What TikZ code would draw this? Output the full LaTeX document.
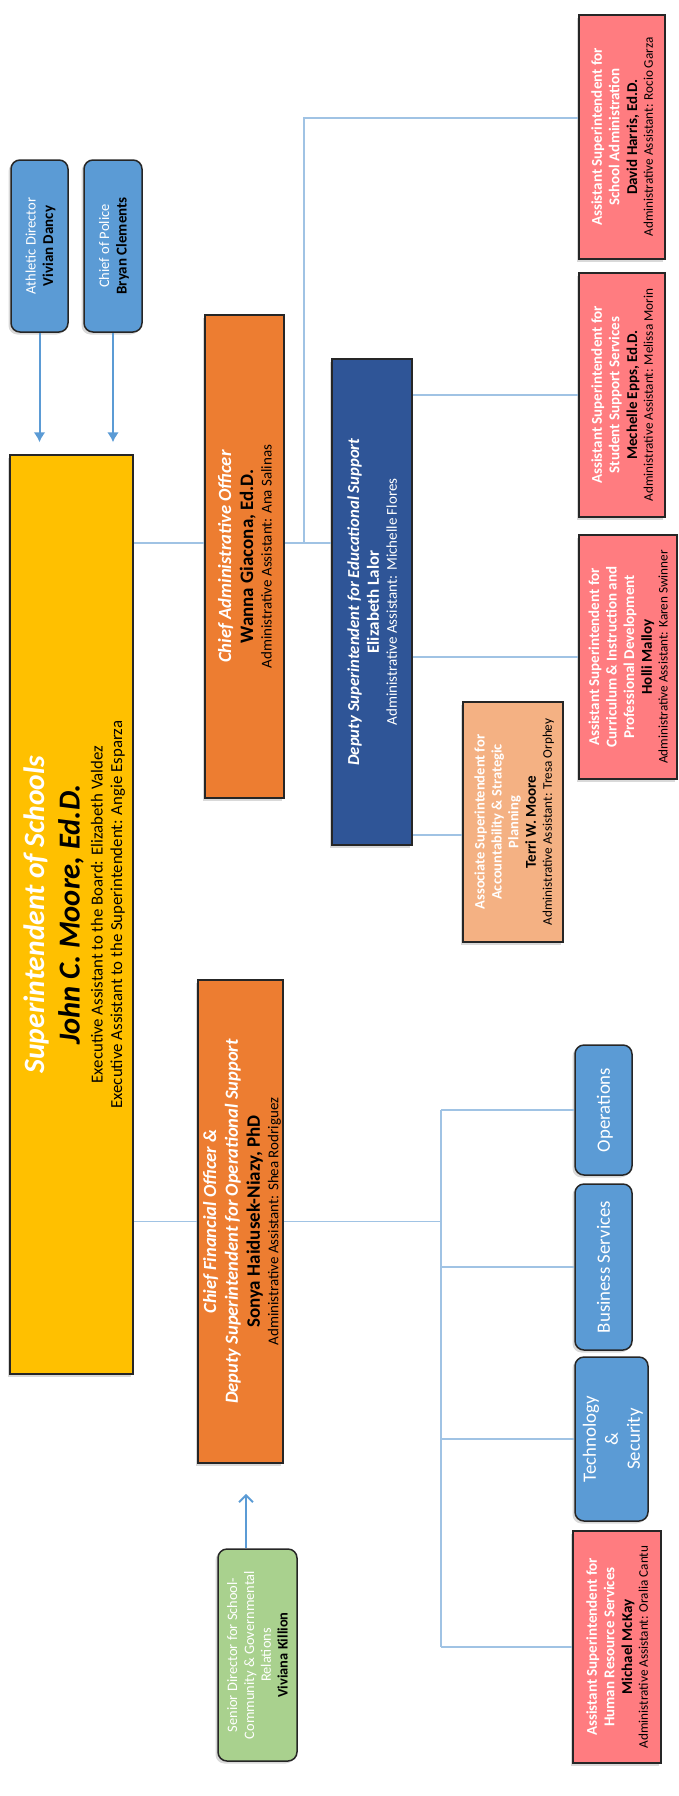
\documentclass[tikz,border=0pt]{standalone}
\usepackage{fontspec}
\setmainfont{Carlito}
\usetikzlibrary{arrows.meta,shadows}

\definecolor{supyellow}{RGB}{255,192,0}
\definecolor{offorange}{RGB}{237,125,49}
\definecolor{deepblue}{RGB}{47,85,151}
\definecolor{peach}{RGB}{244,177,131}
\definecolor{rose}{RGB}{255,124,128}
\definecolor{skyblue}{RGB}{91,155,213}
\definecolor{leaf}{RGB}{169,209,142}
\definecolor{linkblue}{RGB}{160,195,228}
\definecolor{edge}{RGB}{38,38,38}

\tikzset{
  card/.style={rotate=90, draw=edge, line width=1.5pt, inner sep=0pt, align=center, text=white,
    font={\fontsize{14.5}{0}\selectfont\lineskip=0pt},
    drop shadow={shadow xshift=-2.5pt, shadow yshift=-2.5pt, opacity=0.3}},
  sharp/.style={card},
  soft/.style={card, rounded corners=9pt},
  link/.style={draw=linkblue, line width=1.1pt},
  feed/.style={draw=skyblue, line width=2pt, -{Latex[length=10pt,width=12pt]}},
  lift/.style={draw=skyblue, line width=2pt, -{Straight Barb[length=7pt,width=14pt]}},
}

% eine Zeile mit Word-artigem Zeilenabstand
\newcommand{\tline}[2]{{\fontsize{#1}{#1}\selectfont
  \vrule width 0pt height 0.93\dimexpr#1pt\relax depth 0.24\dimexpr#1pt\relax #2}}
\newcommand{\who}[2][15]{\tline{#1}{\color{black}\bfseries #2}}
\newcommand{\aide}[2][13.2]{\tline{#1}{\color{black}#2}}
\newcommand{\role}[2][15]{\tline{#1}{\bfseries #2}}

\begin{document}
\begin{tikzpicture}[x=1pt,y=-1pt]
\useasboundingbox (0,0) rectangle (679,1796);

% Stabsstellen oben
\node[soft, fill=skyblue, minimum width=172pt, minimum height=57pt] (ath) at (39.5,246)
  {\tline{14.5}{Athletic Director}\\\who{Vivian Dancy}};
\node[soft, fill=skyblue, minimum width=172pt, minimum height=58pt] (police) at (113,246)
  {\tline{14.5}{Chief of Police}\\\who{Bryan Clements}};

% Superintendent
\node[sharp, fill=supyellow, minimum width=919pt, minimum height=123pt] (sup) at (71.5,914.5)
  {\tline{29.5}{\bfseries\itshape Superintendent of Schools}\\
   \tline{30.5}{\bfseries\itshape\color{black}John C. Moore, Ed.D.}\\
   \aide[16.8]{Executive Assistant to the Board: Elizabeth Valdez}\\
   \aide[16.8]{Executive Assistant to the Superintendent: Angie Esparza}};

% zweite Ebene
\node[sharp, fill=offorange, minimum width=483pt, minimum height=79pt] (cao) at (244.5,556.5)
  {\tline{18.6}{\bfseries\itshape Chief Administrative Officer}\\
   \who[19]{Wanna Giacona, Ed.D.}\\
   \aide[15]{Administrative Assistant: Ana Salinas}};
\node[sharp, fill=deepblue, minimum width=486pt, minimum height=80pt] (dses) at (372,602)
  {\tline{16.7}{\bfseries\itshape Deputy Superintendent for Educational Support}\\
   \role[17]{Elizabeth Lalor}\\
   \tline{15}{Administrative Assistant: Michelle Flores}};
\node[sharp, fill=offorange, minimum width=483pt, minimum height=85pt] (cfo) at (240.5,1221.5)
  {\tline{18.5}{\bfseries\itshape Chief Financial Officer \&}\\
   \tline{18.5}{\bfseries\itshape Deputy Superintendent for Operational Support}\\
   \who[19]{Sonya Haidusek-Niazy, PhD}\\
   \aide[15]{Administrative Assistant: Shea Rodriguez}};
\node[soft, fill=leaf, minimum width=212pt, minimum height=79pt] (green) at (257.5,1655)
  {\tline{14.4}{Senior Director for School-}\\\tline{14.4}{Community \& Governmental}\\
   \tline{14.4}{Relations}\\\who[14.4]{Viviana Killion}};

% Bildungsbereich
\node[sharp, fill=peach, minimum width=240pt, minimum height=100pt] (assoc) at (513,822)
  {\role[14.5]{Associate Superintendent for}\\\role[14.5]{Accountability \& Strategic}\\\role[14.5]{Planning}\\
   \who{Terri W. Moore}\\\aide{Administrative Assistant: Tresa Orphey}};
\node[sharp, fill=rose, minimum width=244pt, minimum height=98pt] (ci) at (628,657)
  {\role{Assistant Superintendent for}\\\role{Curriculum \& Instruction and}\\\role{Professional Development}\\
   \who{Holli Malloy}\\\aide{Administrative Assistant: Karen Swinner}};
\node[sharp, fill=rose, minimum width=244pt, minimum height=86pt] (sss) at (622,395)
  {\role{Assistant Superintendent for}\\\role{Student Support Services}\\
   \who{Mechelle Epps, Ed.D.}\\\aide{Administrative Assistant: Melissa Morin}};
\node[sharp, fill=rose, minimum width=244pt, minimum height=86pt] (sa) at (622,137)
  {\role{Assistant Superintendent for}\\\role{School Administration}\\
   \who{David Harris, Ed.D.}\\\aide{Administrative Assistant: Rocio Garza}};

% Betrieb
\node[soft, fill=skyblue, minimum width=130pt, minimum height=57pt] (ops) at (603.5,1110)
  {\tline{18.8}{Operations}};
\node[soft, fill=skyblue, minimum width=166pt, minimum height=57pt] (bus) at (603.5,1267)
  {\tline{18.8}{Business Services}};
\node[soft, fill=skyblue, minimum width=164pt, minimum height=73pt] (tech) at (611.5,1439)
  {\tline{18.8}{Technology}\\\tline{18.8}{\&}\\\tline{18.8}{Security}};
\node[sharp, fill=rose, minimum width=232pt, minimum height=88pt] (hr) at (617,1647)
  {\role{Assistant Superintendent for}\\\role{Human Resource Services}\\
   \who{Michael McKay}\\\aide{Administrative Assistant: Oralia Cantu}};

% Verbindungen
\coordinate (jmid) at (304,543);
\coordinate (jtop) at ([yshift=19pt]sa.north);
\coordinate (jass) at ([yshift=-13pt]assoc.north);
\coordinate (jx) at (441,0);
\coordinate (gx) at (246,0);

\draw[feed, shorten >=12pt] (ath.west) -- (ath.west |- sup.east);
\draw[feed, shorten >=12pt] (police.west) -- (police.west |- sup.east);

\draw[link] (sup.south |- jmid) -- (cao.north |- jmid);
\draw[link] (cao.south |- jmid) -- (dses.north |- jmid);
\draw[link] (jmid) -- (jmid |- jtop) -- (jtop);

\draw[link] (dses.south |- sss.north) -- (sss.north);
\draw[link] (dses.south |- ci.north) -- (ci.north);
\draw[link] (dses.south |- jass) -- (jass);

\draw[link] (sup.south |- cfo.north) -- (cfo.north);
\draw[link] (cfo.south) -- (cfo.south -| jx);
\draw[link] (jx |- ops.north) -- (jx |- hr.north);
\draw[link] (jx |- ops.north) -- (ops.north);
\draw[link] (jx |- bus.north) -- (bus.north);
\draw[link] (jx |- tech.north) -- (tech.north);
\draw[link] (jx |- hr.north) -- (hr.north);

\draw[lift, shorten >=30pt] (gx |- green.east) -- (gx |- cfo.west);

\end{tikzpicture}
\end{document}
